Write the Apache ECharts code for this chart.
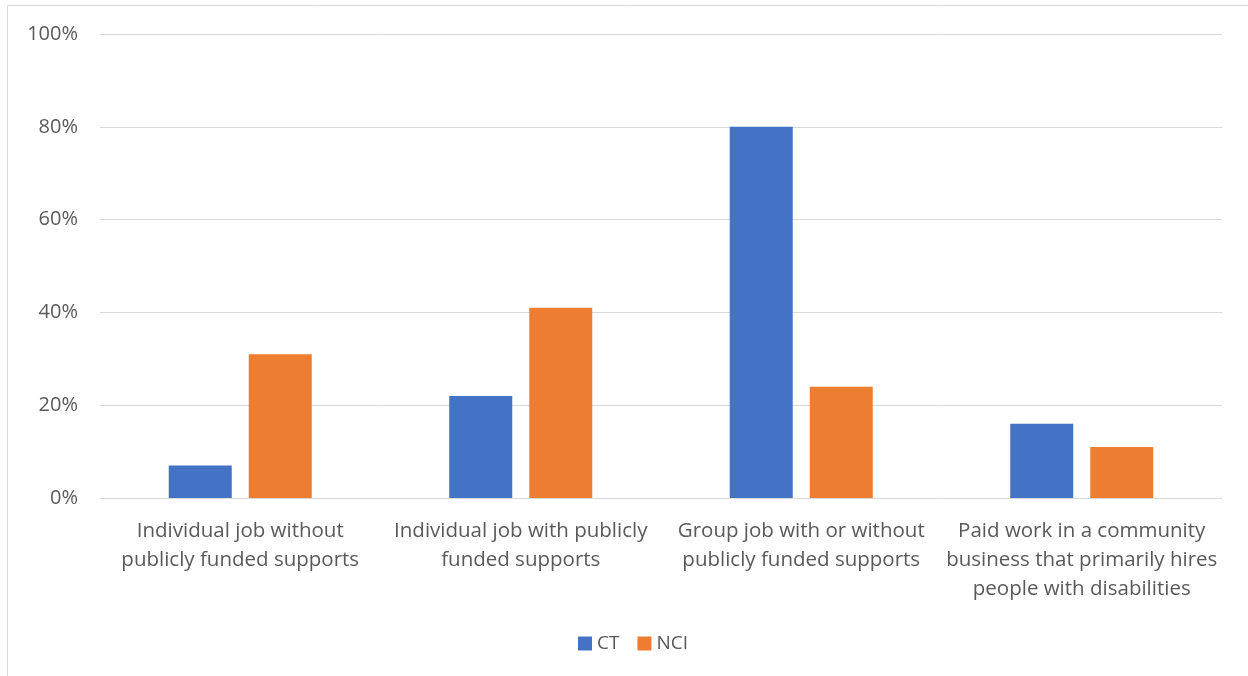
<!DOCTYPE html>
<html><head><meta charset="utf-8">
<script src="https://cdn.jsdelivr.net/npm/echarts@6/dist/echarts.min.js"></script>
<style>html,body{margin:0;padding:0;background:#fff}#c{width:1248px;height:676px}</style>
</head><body><div id="c"></div>
<script>
const categories = [
  "Individual job without\npublicly funded supports",
  "Individual job with publicly\nfunded supports",
  "Group job with or without\npublicly funded supports",
  "Paid work in a community\nbusiness that primarily hires\npeople with disabilities"
];
const ctValues = [7, 22, 80, 16];
const nciValues = [31, 41, 24, 11];
const seriesNames = ["CT", "NCI"];

const chart = echarts.init(document.getElementById('c'), null, {renderer: 'canvas'});
const font = "'Open Sans', sans-serif";
chart.setOption({
  animation: false,
  backgroundColor: '#fff',
  graphic: [{
    type: 'rect', shape: {x: 7.5, y: 5.5, width: 1300, height: 700},
    style: {fill: 'none', stroke: '#d9d9d9', lineWidth: 1}, silent: true
  }],
  grid: {left: 100, right: 26, top: 34, bottom: 178, containLabel: false},
  legend: {
    data: seriesNames, bottom: 18, left: 573, itemWidth: 14, itemHeight: 14, itemGap: 18,
    icon: 'rect',
    textStyle: {color: '#595959', fontSize: 19, fontFamily: font}
  },
  xAxis: {
    type: 'category', data: categories,
    axisLine: {lineStyle: {color: '#d9d9d9', width: 1}},
    axisTick: {show: false},
    axisLabel: {color: '#595959', fontSize: 20.5, fontFamily: font, lineHeight: 29, margin: 19, interval: 0}
  },
  yAxis: {
    type: 'value', min: 0, max: 100, interval: 20,
    axisLabel: {formatter: '{value}%', color: '#595959', fontSize: 20, fontFamily: font, margin: 22},
    splitLine: {lineStyle: {color: '#d9d9d9', width: 1}},
    axisLine: {show: false}, axisTick: {show: false}
  },
  series: [
    {name: seriesNames[0], type: 'bar', data: ctValues, barWidth: 63, barGap: '27%', itemStyle: {color: '#4472c4'}},
    {name: seriesNames[1], type: 'bar', data: nciValues, barWidth: 63, barGap: '27%', itemStyle: {color: '#ed7d31'}}
  ]
});
</script></body></html>
